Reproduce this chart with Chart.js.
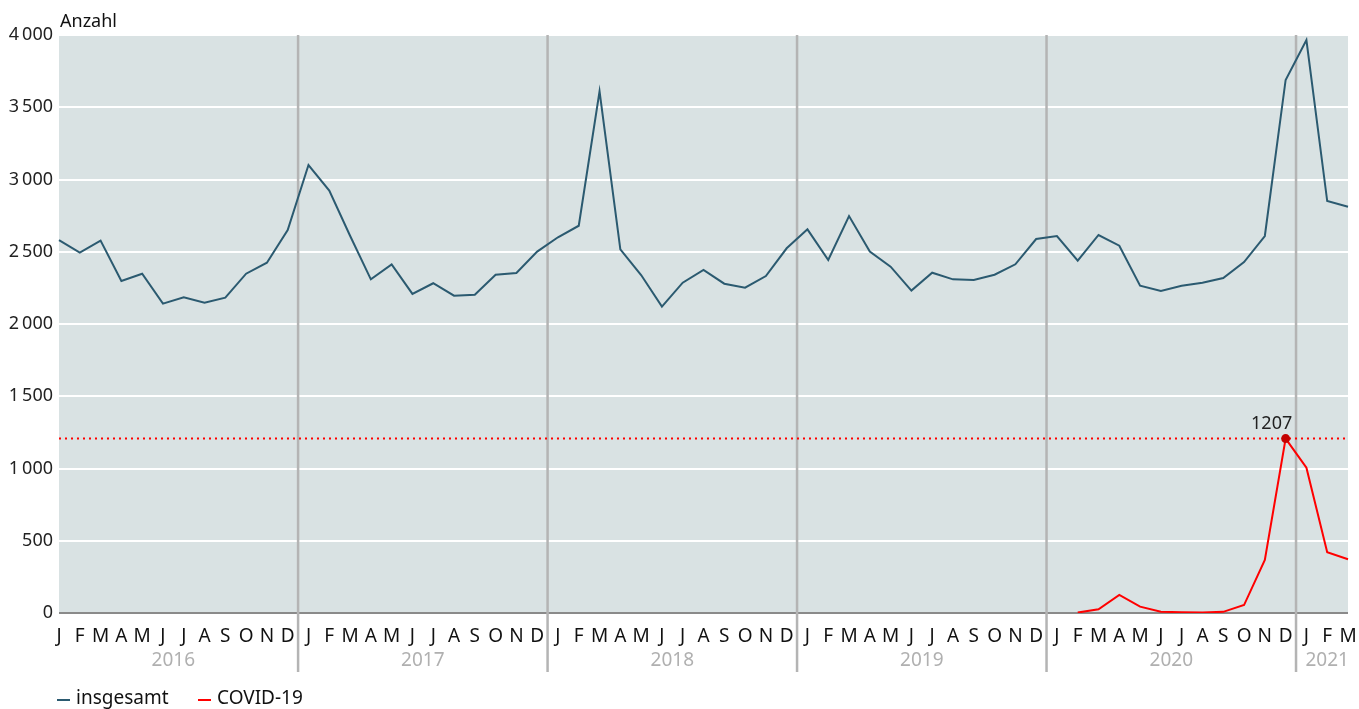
<!DOCTYPE html>
<html>
<head>
<meta charset="utf-8">
<script src="https://cdn.jsdelivr.net/npm/chart.js@4.4.0/dist/chart.umd.min.js"></script>
<style>
html, body { margin: 0; padding: 0; background: #fff; }
</style>
</head>
<body>
<canvas id="chart" width="1359" height="709"></canvas>
<script>
const MONTHS = ['J','F','M','A','M','J','J','A','S','O','N','D'];
const YEARS = ['2016','2017','2018','2019','2020','2021'];
const monthLabels = [];
for (let y = 0; y < 5; y++) monthLabels.push(...MONTHS);
monthLabels.push('J','F','M');

// Sterbefälle pro Monat, Jan 2016 - Mär 2021
const insgesamt = [2581,2494,2577,2298,2348,2141,2185,2148,2182,2348,2424,2650,
                   3100,2923,2611,2309,2413,2208,2282,2196,2203,2341,2353,2501,
                   2600,2680,3610,2517,2339,2120,2286,2374,2279,2251,2332,2524,
                   2655,2443,2747,2501,2397,2231,2355,2309,2304,2341,2413,2588,
                   2609,2438,2616,2542,2265,2228,2265,2286,2318,2429,2609,3689,
                   3965,2851,2812];
const covidValues = [3,26,125,44,9,5,3,8,55,367,1207,1005,420,372]; // ab Feb 2020
const covid = new Array(insgesamt.length - covidValues.length).fill(null).concat(covidValues);

const yTicks = [0,500,1000,1500,2000,2500,3000,3500,4000];

const BLUE = '#2b5a70';
const RED = '#ff0000';
const FONT = '"Noto Sans", sans-serif';

function fmt(v) {
    var s = String(v);
    if (s.length > 3) s = s.slice(0, s.length - 3) + '\u2009' + s.slice(-3);
    return s;
}

const extras = {
    id: 'extras',
    beforeDraw(chart) {
        var ctx = chart.ctx, a = chart.chartArea;
        ctx.save();
        ctx.fillStyle = '#d9e2e3';
        ctx.fillRect(a.left, a.top, a.right - a.left, a.bottom - a.top);
        ctx.restore();
    },
    beforeDatasetsDraw(chart) {
        var ctx = chart.ctx, a = chart.chartArea;
        var xs = chart.scales.x, ys = chart.scales.y;
        ctx.save();
        //year separators
        ctx.strokeStyle = '#b4b4b4';
        ctx.lineWidth = 2.5;
        for (let i = 12; i < monthLabels.length; i += 12) {
            var x = (xs.getPixelForValue(i - 1) + xs.getPixelForValue(i)) / 2;
            ctx.beginPath();
            ctx.moveTo(x, a.top);
            ctx.lineTo(x, 672);
            ctx.stroke();
        }
        //year labels
        ctx.fillStyle = '#b0b0b0';
        ctx.font = '19px ' + FONT;
        ctx.textAlign = 'center';
        ctx.textBaseline = 'middle';
        for (let k = 0; k < YEARS.length; k++) {
            var first = k * 12;
            var last = Math.min(first + 11, monthLabels.length - 1);
            var cx = (xs.getPixelForValue(first) + xs.getPixelForValue(last)) / 2;
            ctx.fillText(YEARS[k], cx, 661);
        }
        //max covid line
        var maxVal = Math.max(...covidValues);
        var yy = ys.getPixelForValue(maxVal);
        ctx.strokeStyle = RED;
        ctx.lineWidth = 2;
        ctx.setLineDash([2, 4]);
        ctx.beginPath();
        ctx.moveTo(a.left, yy);
        ctx.lineTo(a.right, yy);
        ctx.stroke();
        ctx.restore();
    },
    afterDatasetsDraw(chart) {
        var ctx = chart.ctx;
        var xs = chart.scales.x, ys = chart.scales.y;
        var maxVal = Math.max(...covid.filter(v => v !== null));
        var idx = covid.indexOf(maxVal);
        var px = xs.getPixelForValue(idx), py = ys.getPixelForValue(maxVal);
        ctx.save();
        ctx.fillStyle = '#c40000';
        ctx.beginPath();
        ctx.arc(px, py, 4.5, 0, Math.PI * 2);
        ctx.fill();
        ctx.fillStyle = '#222';
        ctx.font = '18px ' + FONT;
        ctx.textAlign = 'center';
        ctx.textBaseline = 'middle';
        ctx.fillText(String(maxVal), px - 14, py - 15);
        ctx.restore();
    },
    afterDraw(chart) {
        var ctx = chart.ctx;
        ctx.save();
        ctx.font = '18px ' + FONT;
        ctx.textBaseline = 'middle';
        ctx.fillStyle = '#111';
        ctx.textAlign = 'left';
        ctx.fillText('Anzahl', 60, 22);
        // legend
        ctx.font = '19px ' + FONT;
        ctx.lineWidth = 2;
        ctx.strokeStyle = BLUE;
        ctx.beginPath(); ctx.moveTo(57, 700); ctx.lineTo(70, 700); ctx.stroke();
        ctx.fillText('insgesamt', 76, 699);
        ctx.strokeStyle = RED;
        ctx.beginPath(); ctx.moveTo(198, 700); ctx.lineTo(211, 700); ctx.stroke();
        ctx.fillText('COVID-19', 217, 699);
        ctx.restore();
    }
};

var ctx = document.getElementById('chart');
var myChart = new Chart(ctx, {
    type: 'line',
    plugins: [extras],
    data: {
        labels: monthLabels,
        datasets: [{
            label: 'insgesamt',
            data: insgesamt,
            borderColor: BLUE,
            borderWidth: 2,
            pointRadius: 0,
            tension: 0
        }, {
            label: 'COVID-19',
            data: covid,
            borderColor: RED,
            borderWidth: 2,
            pointRadius: 0,
            tension: 0
        }]
    },
    options: {
        responsive: false,
        animation: false,
        layout: { padding: { left: 0, right: 11, top: 35, bottom: 0 } },
        plugins: {
            legend: { display: false },
            tooltip: { enabled: false }
        },
        scales: {
            x: {
                offset: false,
                afterFit: function(scale) {
                    scale.height = 96;
                    scale.paddingLeft = 0;
                    scale.paddingRight = 0;
                },
                grid: { display: false, drawTicks: false },
                border: { display: false },
                ticks: {
                    autoSkip: false,
                    maxRotation: 0,
                    padding: 12,
                    color: '#111',
                    font: { family: FONT, size: 19 }
                }
            },
            y: {
                min: 0,
                max: 4000,
                afterFit: function(scale) { scale.width = 59; },
                afterBuildTicks: function(scale) { scale.ticks = yTicks.map(v => ({ value: v })); },
                grid: {
                    drawTicks: false,
                    lineWidth: 2,
                    color: function(c) { return c.tick && c.tick.value === 0 ? '#8a8a8a' : '#ffffff'; }
                },
                border: { display: false },
                ticks: {
                    padding: 6,
                    color: '#222',
                    font: { family: FONT, size: 18 },
                    callback: function(v) { return fmt(v); }
                }
            }
        }
    }
});
</script>
</body>
</html>
